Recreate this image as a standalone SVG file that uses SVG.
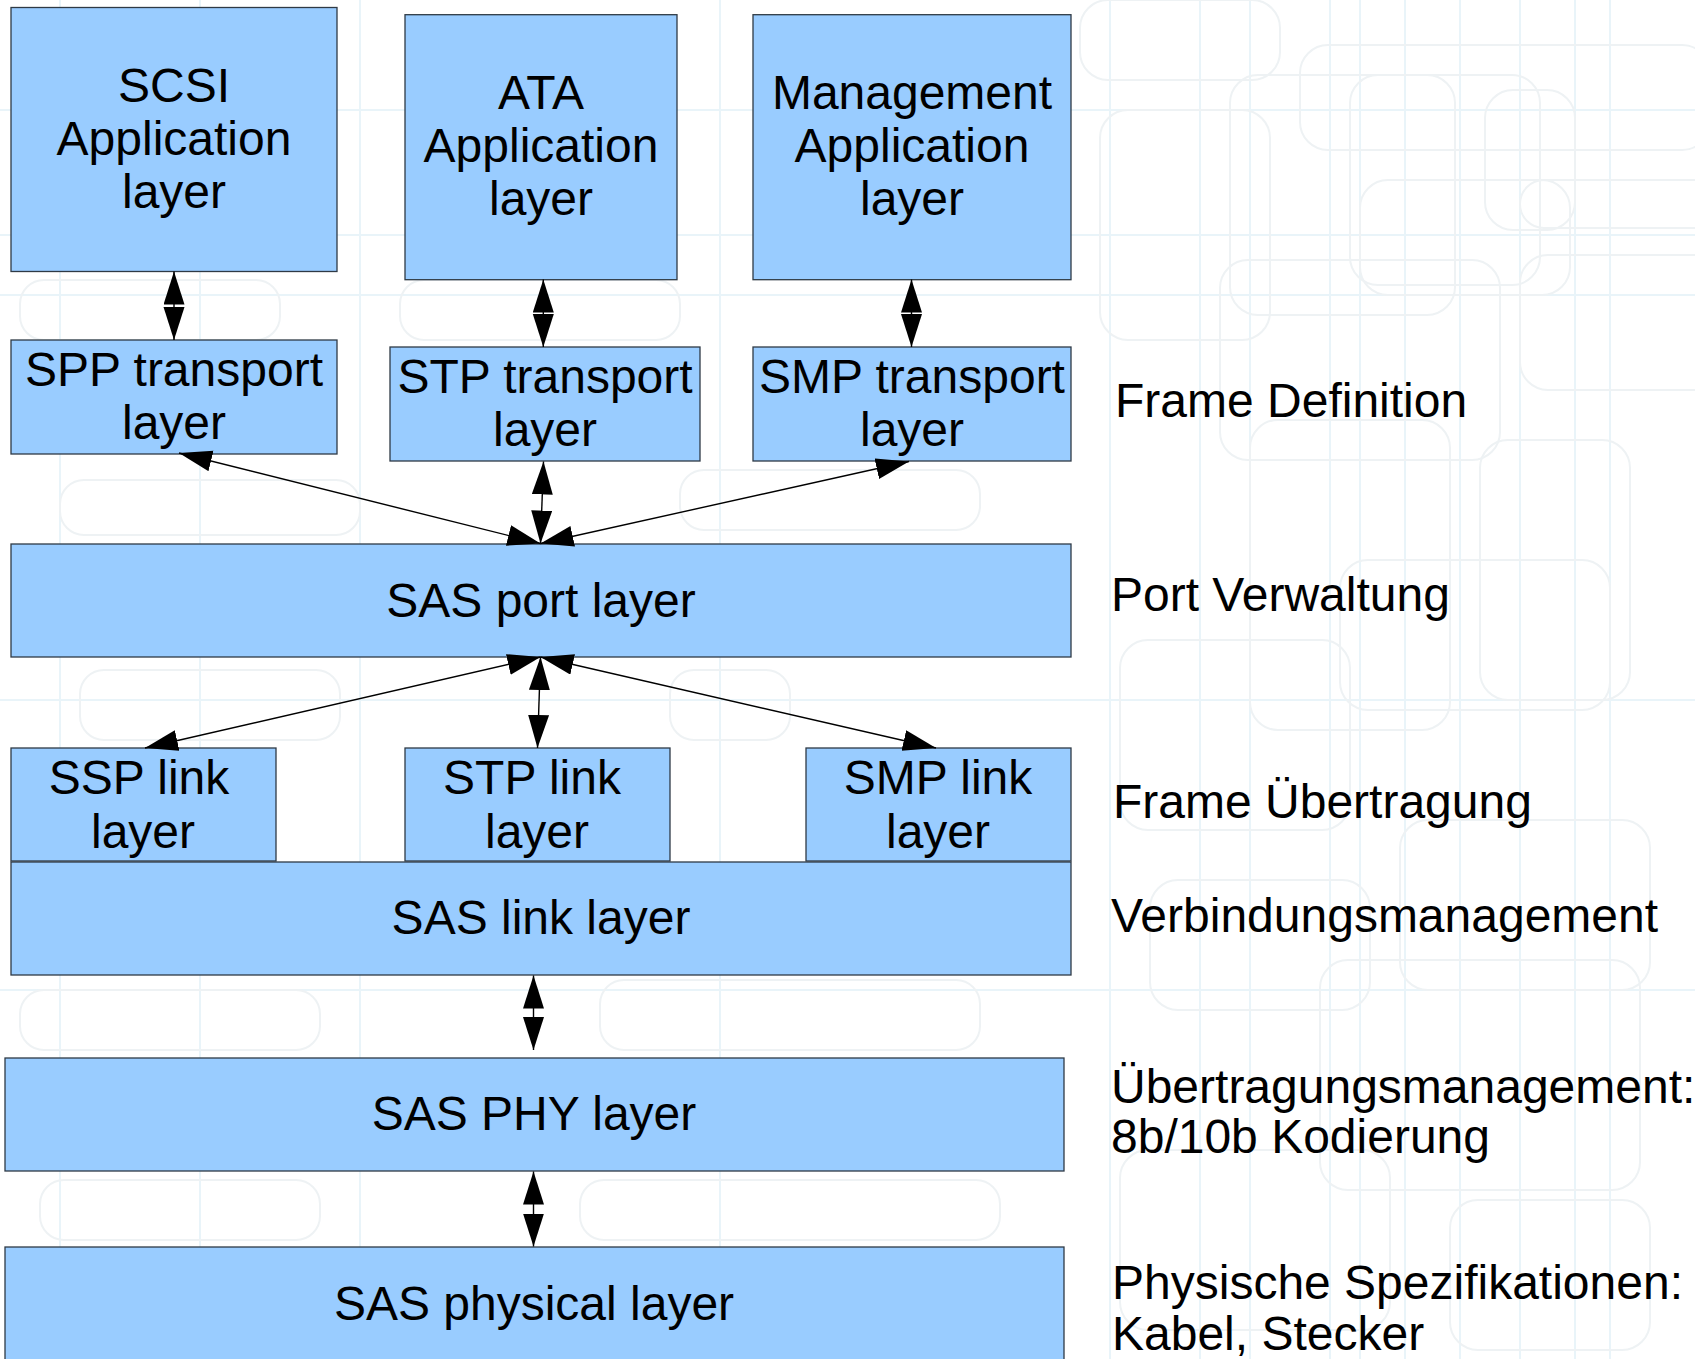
<svg xmlns="http://www.w3.org/2000/svg" width="1695" height="1359" viewBox="0 0 1695 1359">
<style>
.bg rect{fill:none;stroke:#eef2f4;stroke-width:2}
.bg line{stroke:#e9f4f9;stroke-width:2}
.box{fill:#99ccff;stroke:#2f3a45;stroke-width:1.3}
.t{font-family:"Liberation Sans",Arial,sans-serif;font-size:48px;fill:#000}
.c{text-anchor:middle}
.conn line{stroke:#000;stroke-width:1.4;marker-start:url(#ah);marker-end:url(#ah)}
</style>
<defs>
<marker id="ah" markerUnits="userSpaceOnUse" markerWidth="34" markerHeight="22" refX="33" refY="10.5" orient="auto-start-reverse">
<path d="M0,0 L33,10.5 L0,21 z" fill="#000"/>
</marker>
</defs>
<rect width="1695" height="1359" fill="#ffffff"/>
<g class="bg">
<line x1="1330" y1="0" x2="1330" y2="1359"/><line x1="1360" y1="0" x2="1360" y2="1359"/>
<line x1="1405" y1="0" x2="1405" y2="1359"/><line x1="1520" y1="0" x2="1520" y2="1359"/>
<line x1="1575" y1="0" x2="1575" y2="1359"/><line x1="1610" y1="0" x2="1610" y2="1359"/>
<line x1="1460" y1="0" x2="1460" y2="1359"/><line x1="1200" y1="0" x2="1200" y2="1359"/>
<line x1="1250" y1="0" x2="1250" y2="1359"/><line x1="1110" y1="0" x2="1110" y2="1359"/>
<line x1="360" y1="0" x2="360" y2="1359"/><line x1="720" y1="0" x2="720" y2="1359"/>
<line x1="60" y1="0" x2="60" y2="1359"/><line x1="200" y1="0" x2="200" y2="1359"/>
<line x1="0" y1="110" x2="1695" y2="110"/><line x1="0" y1="235" x2="1695" y2="235"/>
<line x1="0" y1="295" x2="1695" y2="295"/><line x1="0" y1="700" x2="1695" y2="700"/>
<line x1="0" y1="990" x2="1695" y2="990"/>
<rect x="1230" y="75" width="225" height="240" rx="28"/>
<rect x="1300" y="45" width="410" height="105" rx="28"/>
<rect x="1350" y="75" width="190" height="210" rx="28"/>
<rect x="1485" y="90" width="90" height="140" rx="28"/>
<rect x="1520" y="180" width="270" height="48" rx="24"/>
<rect x="1360" y="180" width="210" height="115" rx="28"/>
<rect x="1220" y="260" width="280" height="200" rx="28"/>
<rect x="1520" y="255" width="230" height="135" rx="28"/>
<rect x="1100" y="110" width="170" height="230" rx="28"/>
<rect x="1250" y="420" width="200" height="310" rx="28"/>
<rect x="1340" y="560" width="270" height="150" rx="28"/>
<rect x="1480" y="440" width="150" height="260" rx="28"/>
<rect x="1120" y="640" width="230" height="190" rx="28"/>
<rect x="1400" y="820" width="250" height="170" rx="28"/>
<rect x="1150" y="880" width="220" height="130" rx="28"/>
<rect x="1320" y="960" width="320" height="230" rx="28"/>
<rect x="1120" y="1150" width="270" height="180" rx="28"/>
<rect x="1450" y="1200" width="200" height="150" rx="28"/>
<rect x="1080" y="0" width="200" height="80" rx="28"/>
<rect x="400" y="280" width="280" height="60" rx="24"/>
<rect x="20" y="280" width="260" height="60" rx="24"/>
<rect x="680" y="470" width="300" height="60" rx="24"/>
<rect x="60" y="480" width="300" height="55" rx="24"/>
<rect x="80" y="670" width="260" height="70" rx="24"/>
<rect x="670" y="670" width="120" height="70" rx="24"/>
<rect x="20" y="990" width="300" height="60" rx="24"/>
<rect x="600" y="980" width="380" height="70" rx="24"/>
<rect x="40" y="1180" width="280" height="60" rx="24"/>
<rect x="580" y="1180" width="420" height="60" rx="24"/>
</g>
<g id="scsi-app"><rect class="box" x="11" y="7.5" width="326" height="264"/><text class="t c" x="174" y="102">SCSI</text><text class="t c" x="174" y="155">Application</text><text class="t c" x="174" y="208">layer</text></g>
<g id="ata-app"><rect class="box" x="405" y="14.7" width="272" height="265"/><text class="t c" x="541" y="109">ATA</text><text class="t c" x="541" y="162">Application</text><text class="t c" x="541" y="215">layer</text></g>
<g id="mgmt-app"><rect class="box" x="753" y="14.7" width="318" height="265"/><text class="t c" x="912" y="109">Management</text><text class="t c" x="912" y="162">Application</text><text class="t c" x="912" y="215">layer</text></g>
<g id="spp-transport"><rect class="box" x="11" y="340" width="326" height="114"/><text class="t c" x="174" y="386">SPP transport</text><text class="t c" x="174" y="439">layer</text></g>
<g id="stp-transport"><rect class="box" x="390" y="347" width="310" height="114"/><text class="t c" x="545" y="393">STP transport</text><text class="t c" x="545" y="446">layer</text></g>
<g id="smp-transport"><rect class="box" x="753" y="347" width="318" height="114"/><text class="t c" x="912" y="393">SMP transport</text><text class="t c" x="912" y="446">layer</text></g>
<g id="sas-port"><rect class="box" x="11" y="544" width="1060" height="113"/><text class="t c" x="541" y="617">SAS port layer</text></g>
<g id="ssp-link"><rect class="box" x="11" y="748" width="265" height="113"/><text class="t c" x="139" y="794">SSP link</text><text class="t c" x="143" y="848">layer</text></g>
<g id="stp-link"><rect class="box" x="405" y="748" width="265" height="113"/><text class="t c" x="532" y="794">STP link</text><text class="t c" x="537" y="848">layer</text></g>
<g id="smp-link"><rect class="box" x="806" y="748" width="265" height="113"/><text class="t c" x="938" y="794">SMP link</text><text class="t c" x="938" y="848">layer</text></g>
<g id="sas-link"><rect class="box" x="11" y="862" width="1060" height="113"/><text class="t c" x="541" y="934">SAS link layer</text></g>
<g id="sas-phy"><rect class="box" x="5" y="1058" width="1059" height="113"/><text class="t c" x="534" y="1130">SAS PHY layer</text></g>
<g id="sas-physical"><rect class="box" x="5" y="1247" width="1059" height="113"/><text class="t c" x="534" y="1320">SAS physical layer</text></g>
<g id="labels">
<text class="t" x="1115" y="417">Frame Definition</text>
<text class="t" x="1111" y="611">Port Verwaltung</text>
<text class="t" x="1113" y="818">Frame Übertragung</text>
<text class="t" x="1111" y="932">Verbindungsmanagement</text>
<text class="t" x="1111" y="1103">Übertragungsmanagement:</text>
<text class="t" x="1111" y="1153">8b/10b Kodierung</text>
<text class="t" x="1112" y="1299">Physische Spezifikationen:</text>
<text class="t" x="1112" y="1350">Kabel, Stecker</text>
</g>
<g id="connectors" class="conn">
<line x1="174" y1="271.5" x2="174" y2="340"/>
<line x1="543.3" y1="279.5" x2="543.3" y2="347"/>
<line x1="911.5" y1="279.5" x2="911.5" y2="347"/>
<line x1="179" y1="453" x2="540.5" y2="543.5"/>
<line x1="543.5" y1="461.5" x2="540.5" y2="543.5"/>
<line x1="909" y1="461.5" x2="540.5" y2="543.5"/>
<line x1="540.5" y1="657" x2="145" y2="748"/>
<line x1="540.5" y1="657" x2="537.5" y2="748"/>
<line x1="540.5" y1="657" x2="936" y2="748"/>
<line x1="533.5" y1="975.5" x2="533.5" y2="1050"/>
<line x1="533.5" y1="1171.5" x2="533.5" y2="1246.5"/>
</g>
</svg>
